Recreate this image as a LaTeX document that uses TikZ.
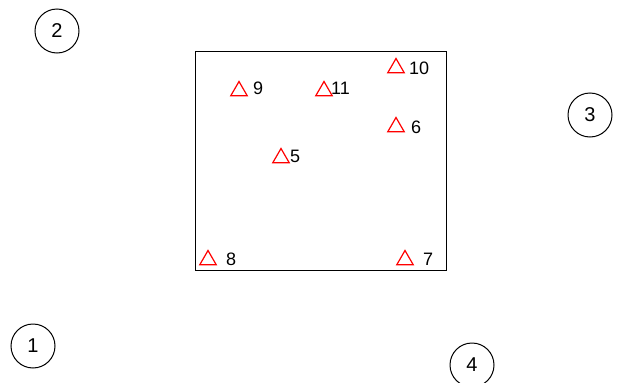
\documentclass[tikz,border=0pt]{standalone}
\usepackage{fontspec}
\setmainfont{Liberation Sans}
\usetikzlibrary{shapes.geometric}
\begin{document}
\begin{tikzpicture}[x=1pt,y=-1pt,
  station/.style={circle,draw=black,line width=1pt,minimum size=44pt,inner sep=0pt,font=\fontsize{20}{20}\selectfont},
  tri/.style={regular polygon,regular polygon sides=3,draw=red,line width=1.2pt,minimum size=19pt,inner sep=0pt},
  lab/.style={anchor=west,inner sep=0pt,font=\fontsize{18}{18}\selectfont}]
\useasboundingbox (0,0) rectangle (619,383);
\node[draw=black,line width=0.8pt,minimum width=251pt,minimum height=219pt,inner sep=0pt] (box) at (320.5,160.5) {};
\node[station] (c2) at (57,31) {2};
\node[station] (c3) at (590,115) {3};
\node[station] (c1) at (33,346) {1};
\node[station] (c4) at (472,365) {4};
\node[tri] (t9) at (239,91) {};
\node[lab] (l9) at (253,88) {9};
\node[tri] (t11) at (324,91) {};
\node[lab] (l11) at (331,88) {11};
\node[tri] (t10) at (396,68) {};
\node[lab] (l10) at (409,68) {10};
\node[tri] (t6) at (396,127) {};
\node[lab] (l6) at (411,127) {6};
\node[tri] (t5) at (281,158) {};
\node[lab] (l5) at (290,156) {5};
\node[tri] (t8) at (208,260) {};
\node[lab] (l8) at (226,259) {8};
\node[tri] (t7) at (405,260) {};
\node[lab] (l7) at (423,259) {7};
\end{tikzpicture}
\end{document}
